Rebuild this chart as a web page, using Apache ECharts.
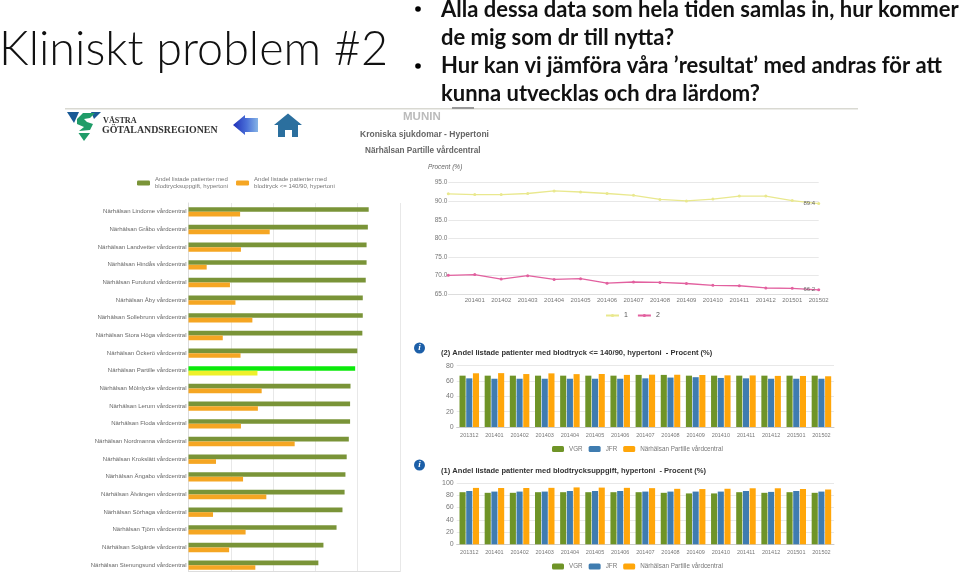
<!DOCTYPE html>
<html><head><meta charset="utf-8">
<style>html,body{margin:0;padding:0;background:#fff}#c{width:960px;height:574px}</style>
<script src="https://cdn.jsdelivr.net/npm/echarts@6/dist/echarts.min.js"></script>
</head><body><div id="c"></div>
<script>
const clinics = ['Närhälsan Lindome vårdcentral','Närhälsan Gråbo vårdcentral','Närhälsan Landvetter vårdcentral','Närhälsan Hindås vårdcentral','Närhälsan Furulund vårdcentral','Närhälsan Åby vårdcentral','Närhälsan Sollebrunn vårdcentral','Närhälsan Stora Höga vårdcentral','Närhälsan Öckerö vårdcentral','Närhälsan Partille vårdcentral','Närhälsan Mölnlycke vårdcentral','Närhälsan Lerum vårdcentral','Närhälsan Floda vårdcentral','Närhälsan Nordmanna vårdcentral','Närhälsan Krokslätt vårdcentral','Närhälsan Ängabo vårdcentral','Närhälsan Älvängen vårdcentral','Närhälsan Sörhaga vårdcentral','Närhälsan Tjörn vårdcentral','Närhälsan Solgärde vårdcentral','Närhälsan Stenungsund vårdcentral'];
const clinicRecorded = [92.6,92.4,92.1,92.1,91.9,91.2,91.2,91.1,89.9,89.4,88.3,88.2,88.2,87.9,87.4,87.1,86.9,86.4,85.0,81.9,80.7];
const clinicControlled = [62.2,69.2,62.4,54.3,59.8,61.1,65.1,58.1,62.3,66.3,67.3,66.4,62.4,75.1,56.5,62.9,68.4,55.8,63.5,59.6,65.8];
const highlightClinic = 'Närhälsan Partille vårdcentral';
const months = ['201312','201401','201402','201403','201404','201405','201406','201407','201408','201409','201410','201411','201412','201501','201502'];
const line1 = [92.0,91.8,91.8,92.1,92.8,92.5,92.1,91.6,90.5,90.1,90.6,91.4,91.4,90.2,89.4];
const line2 = [70.1,70.3,69.1,70.0,69.0,69.2,68.0,68.3,68.2,67.9,67.4,67.3,66.7,66.6,66.2];
const ctrlVGR = [67,67,67,67,67,67,67,68,68,67,67,67,67,67,67];
const ctrlJFR = [63.5,63,63,63,63,63,63,63.5,64.5,65,64,63.5,63,63,63];
const ctrlOwn = [70.1,70.3,69.1,70.0,69.0,69.2,68.0,68.3,68.2,67.9,67.4,67.3,66.7,66.6,66.2];
const recVGR = [85,84,84,85,85,85,85,85,84,83,83,85,84,85,84];
const recJFR = [87,86,86,86,87,87,87,86,86,86,86,87,85.5,87,86];
const recOwn = [92.0,91.8,91.8,92.1,92.8,92.5,92.1,91.6,90.5,90.1,90.6,91.4,91.4,90.2,89.4];
const nameRec = 'Andel listade patienter med\nblodtrycksuppgift, hypertoni';
const nameCtl = 'Andel listade patienter med\nblodtryck <= 140/90, hypertoni';
const ownName = 'Närhälsan Partille vårdcentral';
const titleCtl = '(2) Andel listade patienter med blodtryck <= 140/90, hypertoni  - Procent (%)';
const titleRec = '(1) Andel listade patienter med blodtrycksuppgift, hypertoni  - Procent (%)';
const slideLines = ['Alla dessa data som hela tiden samlas in, hur kommer','de mig som dr till nytta?','Hur kan vi jämföra våra ’resultat’ med andras för att','kunna utvecklas och dra lärdom?'];

const G='#7a9438', O='#f5a623', B='#3f7cb0', OWN='#ffa60a', LG='#6f9427';
const gray='#777', split='#e8e8e8';
const txt=(text,x,y,font,fill,align)=>({type:'text',silent:true,style:{text,x,y,font,fill:fill||'#000',textAlign:align||'left',textVerticalAlign:'middle'}});
const poly=(points,fill)=>({type:'polygon',silent:true,shape:{points},style:{fill}});
const info=(y)=>[{type:'circle',silent:true,shape:{cx:419.5,cy:y,r:5.5},style:{fill:'#1c5fa8'}},txt('i',419.5,y,'italic bold 9px "Liberation Serif"','#fff','center')];

const vBar=(gi)=>({gridIndex:gi,type:'category',data:months,axisTick:{show:false},axisLine:{lineStyle:{color:'#ccc'}},axisLabel:{interval:0,fontSize:5.5,color:gray,margin:5,fontFamily:'Liberation Sans'}});
const vVal=(gi,max,interval)=>({gridIndex:gi,type:'value',min:0,max,interval,axisLine:{show:false},axisTick:{show:false},axisLabel:{fontSize:7,color:gray,margin:3,fontFamily:'Liberation Sans'},splitLine:{lineStyle:{color:split,width:1}}});
const bar=(name,data,gi,color)=>({name,type:'bar',xAxisIndex:gi,yAxisIndex:gi,data,barWidth:6.1,barGap:'10%',itemStyle:{color}});
const arrowFill=new echarts.graphic.LinearGradient(0,0,1,0,[{offset:0,color:'#1f2fb8'},{offset:0.55,color:'#4a70d8'},{offset:1,color:'#86b4e6'}]);

const option={animation:false,backgroundColor:'#fff',
 grid:[
  {left:188.5,top:203,width:211.5,height:372.7},
  {left:448.3,top:182.7,width:370.4,height:111.6},
  {left:456.7,top:365.7,width:377.3,height:61.3},
  {left:456.7,top:483,width:377.3,height:61.3}],
 legend:[
  {left:137,top:176,itemWidth:13,itemHeight:5,itemGap:8,padding:0,data:[nameRec,nameCtl],textStyle:{fontSize:6,lineHeight:7,color:gray,fontFamily:'Liberation Sans'},selectedMode:false},
  {left:605,top:312,itemWidth:13,itemHeight:4,itemGap:9,padding:0,data:['1','2'],textStyle:{fontSize:7,color:'#555',fontFamily:'Liberation Sans'},selectedMode:false},
  {left:552,top:446,itemWidth:12,itemHeight:6,itemGap:6,padding:0,data:['VGR','JFR',ownName],textStyle:{fontSize:6.3,color:gray,fontFamily:'Liberation Sans'},selectedMode:false},
  {left:552,top:563.5,itemWidth:12,itemHeight:6,itemGap:6,padding:0,data:['VGR','JFR',ownName],textStyle:{fontSize:6.3,color:gray,fontFamily:'Liberation Sans'},selectedMode:false}],
 xAxis:[
  {gridIndex:0,type:'value',min:50,max:100,interval:10,axisLabel:{show:false},axisTick:{show:false},axisLine:{show:true,lineStyle:{color:'#ddd'}},splitLine:{lineStyle:{color:split}}},
  {gridIndex:1,type:'category',boundaryGap:false,data:months,axisTick:{show:false},axisLine:{lineStyle:{color:'#ddd'}},axisLabel:{interval:0,fontSize:6,color:gray,margin:3,fontFamily:'Liberation Sans',showMinLabel:true,formatter:(v,i)=>i===0?'':v}},
  vBar(2),vBar(3)],
 yAxis:[
  {gridIndex:0,type:'category',inverse:true,data:clinics,axisTick:{show:false},axisLine:{lineStyle:{color:'#ddd'}},axisLabel:{interval:0,fontSize:6,color:'#666',margin:2,fontFamily:'Liberation Sans'}},
  {gridIndex:1,type:'value',min:65,max:95,interval:5,axisLine:{show:false},axisTick:{show:false},axisLabel:{fontSize:6.5,color:gray,margin:1,fontFamily:'Liberation Sans',formatter:v=>v.toFixed(1)},splitLine:{lineStyle:{color:split}}},
  vVal(2,80,20),vVal(3,100,20)],
 series:[
  {name:nameRec,type:'bar',xAxisIndex:0,yAxisIndex:0,barWidth:4.7,barGap:0,itemStyle:{color:G},
   data:clinicRecorded.map((v,i)=>clinics[i]===highlightClinic?{value:v,itemStyle:{color:'#0bea0b'}}:v)},
  {name:nameCtl,type:'bar',xAxisIndex:0,yAxisIndex:0,barWidth:4.7,barGap:0,itemStyle:{color:O},
   data:clinicControlled.map((v,i)=>clinics[i]===highlightClinic?{value:v,itemStyle:{color:'#eef02a'}}:v)},
  ...[['1',line1,'#e9e88e'],['2',line2,'#e2609f']].map(([name,d,color])=>({name,type:'line',xAxisIndex:1,yAxisIndex:1,symbol:'circle',symbolSize:3,lineStyle:{color,width:1.3},itemStyle:{color},
   data:d.map((v,i)=>i===d.length-1?{value:v,label:{show:true,position:'left',distance:2,fontSize:6,color:'#666',formatter:p=>p.value.toFixed(1)}}:v)})),
  bar('VGR',ctrlVGR,2,LG),bar('JFR',ctrlJFR,2,B),bar(ownName,ctrlOwn,2,OWN),
  bar('VGR',recVGR,3,LG),bar('JFR',recJFR,3,B),bar(ownName,recOwn,3,OWN)],
 graphic:{elements:[
  {type:'rect',silent:true,z:200,shape:{x:186,y:572,width:216,height:3},style:{fill:'#fff'}},
  {type:'rect',silent:true,z:201,shape:{x:188.5,y:571,width:211.5,height:1},style:{fill:'#ddd'}},
  {type:'rect',silent:true,shape:{x:65,y:108,width:793,height:1.5},style:{fill:'#d9d9d2'}},
  {type:'rect',silent:true,shape:{x:452,y:107,width:22,height:2},style:{fill:'#999'}},
  txt('Kliniskt problem #2',-1,50,'300 46.7px "Lato"','#111'),
  {type:'circle',silent:true,shape:{cx:418,cy:9,r:2.8},style:{fill:'#000'}},
  {type:'circle',silent:true,shape:{cx:418,cy:66,r:2.8},style:{fill:'#000'}},
  txt(slideLines[0],441,10,'bold 22px "Lato"','#111'),
  txt(slideLines[1],441,38,'bold 22px "Lato"','#111'),
  txt(slideLines[2],441,66,'bold 22px "Lato"','#111'),
  txt(slideLines[3],441,94,'bold 22px "Lato"','#111'),
  poly([[67,112],[79,112],[74,123]],'#1a5a96'),
  poly([[91,112],[101,112],[94,119]],'#1a5a96'),
  poly([[77,119],[83,113],[95,113],[90,118],[84,119],[87,122],[93,124],[90,130],[79,131],[84,127],[77,124]],'#1f9c68'),
  poly([[78.5,133],[90,133],[84,141]],'#1f9c68'),
  txt('VÄSTRA',103,121,'bold 8.2px "Liberation Serif"','#333'),
  txt('GÖTALANDSREGIONEN',102,130.5,'bold 9.9px "Liberation Serif"','#333'),
  {type:'polygon',silent:true,shape:{points:[[233,125],[245,115],[245,118],[258,118],[258,132],[245,132],[245,135]]},style:{fill:arrowFill}},
  poly([[274,125],[288,113.5],[302,125],[298,125],[298,137],[292,137],[292,130],[285,130],[285,137],[278,137],[278,125]],'#2b6f9e'),
  txt('MUNIN',403,117,'bold 11.5px "Liberation Sans"','#bbb'),
  txt('Kroniska sjukdomar - Hypertoni',360,135,'bold 8.5px "Liberation Sans"','#666'),
  txt('Närhälsan Partille vårdcentral',365,150.5,'bold 8.2px "Liberation Sans"','#666'),
  txt('Procent (%)',428,167.5,'italic 6.5px "Liberation Sans"','#666'),
  ...info(348),...info(465),
  txt(titleCtl,441,353,'bold 7.55px "Liberation Sans"','#333'),
  txt(titleRec,441,470.5,'bold 7.55px "Liberation Sans"','#333')
 ]}
};
echarts.init(document.getElementById('c')).setOption(option);
</script></body></html>
